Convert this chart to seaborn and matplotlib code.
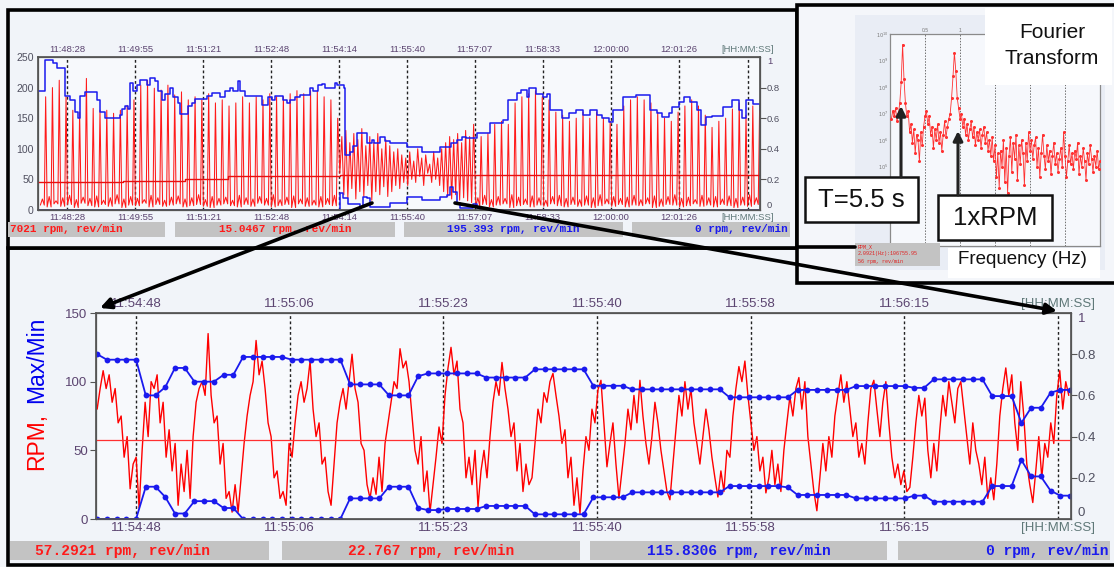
import numpy as np
import pandas as pd
import matplotlib
matplotlib.use("Agg")
import matplotlib.pyplot as plt
from matplotlib.patches import Rectangle
import seaborn as sns

# ============================ DATA ============================
# ---- top overview (x = seconds after 11:48:28) ----
top_tick_labels = ["11:48:28", "11:49:55", "11:51:21", "11:52:48", "11:54:14",
                   "11:55:40", "11:57:07", "11:58:33", "12:00:00", "12:01:26"]
top_tick_step = 86.44
top_cursor = 866.0
top_xlim = (-37.0, 881.5)
top_cycle = 8.64

top_r1_start = -34.0
top_r1_peak = [185, 200, 212, 185, 163, 160, 215, 166, 163, 163, 158, 163, 171, 180, 204,
               212, 199, 196, 204, 188, 193, 180, 185, 180, 190, 175, 180, 170, 175, 185,
               175, 185, 180, 190, 185, 185, 190, 195, 190, 195, 195, 185, 180, 150]
top_r1_low_a = [8, 5, 10, 6, 9, 4, 11, 7, 5, 9, 6, 10, 4, 8, 7, 11, 5, 9, 6, 8, 10, 5,
                7, 9, 6, 4, 8, 10, 7, 5, 9, 6, 11, 8, 5, 7, 9, 4, 10, 6, 8, 5, 9, 7]
top_r1_low_b = [18, 22, 15, 20, 24, 17, 21, 19, 23, 16, 20, 25, 18, 22, 19, 17, 24, 20,
                16, 21, 23, 18, 20, 25, 17, 22, 19, 21, 16, 24, 20, 18, 22, 19, 25, 17,
                21, 23, 18, 20, 16, 22, 19, 24]

top_r2_start = 347.0
top_r2_step = 2.54
top_r2_vals = [60, 120, 25, 130, 20, 110, 35, 125, 18, 115, 30, 133, 22, 105, 40, 120, 16,
               110, 30, 125, 25, 100, 38, 115, 22, 105, 30, 95, 40, 100, 35, 90, 45, 85,
               40, 95, 50, 80, 45, 100, 55, 85, 40, 90, 60, 75, 45, 95, 50, 85, 40, 100,
               30, 110, 22, 120, 18, 115, 25, 125, 16, 110, 20, 130, 15, 120, 12, 140]

top_r3_start = 520.0
top_r3_peak = [120, 125, 140, 145, 140, 175, 185, 190, 195, 185, 180, 160, 155, 145, 150,
               160, 150, 160, 150, 145, 140, 170, 180, 185, 180, 175, 160, 150, 145, 160,
               170, 180, 170, 155, 135, 145, 150, 165, 175, 155, 170, 165]
top_r3_low_a = [6, 9, 5, 8, 10, 4, 7, 9, 5, 8, 6, 10, 7, 5, 9, 6, 8, 4, 7, 10, 6, 9, 5,
                8, 7, 10, 4, 6, 9, 8, 5, 7, 10, 6, 8, 5, 9, 7, 4, 8, 6, 9]
top_r3_low_b = [20, 24, 17, 22, 19, 25, 21, 18, 23, 20, 16, 22, 24, 19, 21, 17, 23, 20, 25,
                18, 22, 19, 21, 24, 17, 20, 23, 18, 22, 25, 19, 21, 17, 24, 20, 22, 18, 23,
                19, 21, 25, 20]

top_max_t = [-37, -28, -18, -13, -3, 4, 10, 14, 17, 23, 38, 42, 48, 67, 70, 74, 78, 80, 84,
             89, 93, 102, 105, 112, 116, 121, 125, 131, 135, 141, 144, 154, 159, 163, 178,
             184, 194, 201, 207, 211, 217, 220, 226, 248, 255, 261, 264, 275, 280, 283, 290,
             296, 309, 313, 319, 324, 328, 341, 344, 352, 353, 360, 364, 369, 381, 388, 391,
             398, 405, 411, 432, 452, 474, 489, 496, 503, 508, 522, 538, 554, 561, 572, 578,
             585, 588, 597, 605, 610, 614, 630, 639, 648, 656, 665, 674, 681, 690, 694, 707,
             724, 741, 750, 757, 766, 770, 779, 785, 792, 801, 807, 813, 821, 834, 846, 855,
             859, 864, 872, 881]
top_max_v = [195, 245, 240, 232, 186, 180, 160, 150, 187, 192, 180, 160, 150, 155, 165, 170,
             165, 208, 195, 205, 212, 205, 215, 210, 195, 180, 190, 200, 185, 175, 157, 170,
             175, 182, 186, 191, 185, 195, 200, 195, 210, 195, 187, 172, 185, 180, 186, 180,
             175, 180, 185, 188, 200, 195, 204, 206, 200, 207, 205, 200, 90, 95, 105, 125,
             109, 115, 110, 120, 112, 109, 103, 95, 103, 109, 114, 120, 117, 125, 142, 147,
             180, 191, 196, 185, 199, 190, 185, 190, 163, 150, 158, 163, 155, 163, 155, 150,
             144, 163, 185, 188, 163, 158, 152, 158, 169, 177, 185, 177, 163, 139, 152, 153,
             169, 180, 163, 150, 180, 174, 163]
top_min_t = [-37, 345, 347, 351, 357, 372, 376, 381, 385, 411, 432, 452, 474, 483, 487, 491,
             496, 500, 516, 522, 525, 881]
top_min_v = [0, 0, 27, 20, 10, 5, 22, 20, 5, 11, 22, 16, 22, 25, 38, 30, 11, 3, 10, 3, 0, 0]
top_mean_t = [-37, 71, 150, 205, 347, 881]
top_mean_v = [46, 48, 51, 55, 57, 57]

top_status = ["7021 rpm, rev/min", "15.0467 rpm, rev/min", "195.393 rpm, rev/min", "0 rpm, rev/min"]

# ---- zoomed trace (x = seconds after 11:54:48) ----
bot_tick_labels = ["11:54:48", "11:55:06", "11:55:23", "11:55:40", "11:55:58", "11:56:15"]
bot_tick_step = 17.4
bot_cursor = 104.4
bot_xlim = (-4.53, 105.85)
bot_rpm_t0 = -4.4
bot_rpm_dt = 0.3395
bot_rpm = [80, 95, 108, 95, 105, 85, 95, 70, 75, 45,
           60, 22, 40, 45, 8, 50, 85, 60, 100, 95,
           105, 70, 85, 45, 65, 35, 55, 10, 40, 20,
           50, 15, 60, 85, 95, 100, 90, 135, 90, 70,
           75, 40, 55, 15, 20, 5, 25, 5, 30, 55,
           75, 90, 100, 130, 105, 115, 95, 70, 60, 30,
           35, 15, 20, 10, 55, 45, 70, 90, 100, 85,
           95, 115, 80, 60, 70, 40, 45, 20, 10, 40,
           70, 85, 95, 80, 100, 120, 95, 85, 55, 50,
           25, 15, 30, 18, 45, 20, 55, 70, 85, 100,
           95, 124, 110, 115, 100, 75, 50, 40, 60, 20,
           35, 5, 25, 45, 67, 55, 90, 110, 125, 105,
           115, 80, 70, 30, 45, 25, 50, 9, 35, 50,
           30, 60, 85, 100, 90, 114, 95, 80, 60, 70,
           35, 55, 20, 40, 25, 30, 55, 80, 70, 92,
           85, 100, 106, 90, 75, 55, 65, 30, 45, 10,
           30, 4, 35, 60, 50, 80, 70, 94, 101, 70,
           38, 55, 70, 40, 15, 35, 55, 80, 65, 90,
           70, 101, 75, 55, 40, 60, 85, 70, 50, 35,
           20, 14, 40, 65, 90, 75, 100, 80, 95, 70,
           55, 40, 60, 80, 65, 45, 30, 16, 35, 20,
           50, 45, 75, 95, 111, 100, 115, 90, 70, 50,
           60, 35, 45, 19, 30, 50, 25, 40, 20, 50,
           70, 89, 75, 95, 103, 80, 100, 60, 40, 20,
           6, 30, 55, 35, 60, 45, 75, 90, 105, 85,
           100, 80, 60, 70, 45, 55, 40, 70, 95, 101,
           80, 60, 85, 100, 70, 45, 30, 40, 25, 35,
           20, 23, 45, 70, 90, 75, 88, 50, 30, 55,
           35, 65, 90, 75, 100, 85, 70, 95, 100, 80,
           60, 40, 70, 50, 40, 25, 45, 15, 30, 14,
           40, 75, 95, 110, 90, 105, 70, 50, 100, 75,
           40, 25, 12, 35, 60, 30, 55, 45, 70, 55,
           90, 108, 80, 100, 90]
bot_mean = 57.3
bot_env_t0 = -4.4
bot_env_dt = 1.1014
bot_max = [120, 116, 116, 116, 116, 90, 90, 96, 110, 110,
           100, 100, 100, 105, 105, 118, 118, 118, 118, 118,
           116, 116, 116, 116, 116, 116, 98, 98, 98, 98,
           90, 90, 90, 104, 106, 106, 106, 106, 106, 106,
           103, 103, 103, 103, 103, 109, 109, 109, 109, 109,
           109, 97, 97, 97, 97, 94.4, 94.4, 94.4, 94.4, 94.4,
           94.4, 94.4, 94.4, 94.4, 94.4, 88.6, 88.6, 88.6, 88.6, 88.6,
           88.6, 88.6, 94, 94, 94, 94, 94, 94, 96.8, 96.8,
           96.8, 96.8, 96.8, 96.8, 95.5, 95.5, 101.7, 101.7, 101.7, 101.7,
           101.7, 101.7, 89.5, 89.5, 89.5, 70, 81, 81, 92, 94,
           94]
bot_min = [0, 0, 0, 0, 0, 23.5, 23.5, 16, 4, 4,
           13, 13, 13, 8, 8, 0, 0, 0, 0, 0,
           0, 0, 0, 0, 0, 0, 15, 15, 15, 15,
           23.5, 23.5, 23.5, 8, 6.5, 6.5, 7.3, 7.3, 7.3, 7.3,
           9.5, 9.5, 9.5, 9.5, 9.5, 3.4, 3.4, 3.4, 3.4, 3.4,
           3.4, 15.8, 15.8, 15.8, 15.8, 19.4, 19.4, 19.4, 19.4, 19.4,
           19.4, 19.4, 19.4, 19.4, 19.4, 24, 24, 24, 24, 24,
           24, 23, 17.5, 17.5, 17.5, 17.5, 17.5, 17.5, 15, 15,
           15, 15, 15, 15, 17, 17, 12.6, 12.6, 12.6, 12.6,
           12.6, 12.6, 24, 24, 24, 43, 31, 31, 20.6, 17,
           17]
bot_status = ["57.2921 rpm, rev/min", "22.767 rpm, rev/min", "115.8306 rpm, rev/min", "0 rpm, rev/min"]

# ---- Fourier transform (log10 amplitude every 0.02 Hz) ----
fft_df_hz = 0.02
fft_log = [6.8, 7.1, 6.9, 7.2, 6.7, 7.0, 7.4, 8.2, 9.6, 8.3,
           7.4, 6.9, 7.1, 6.3, 6.6, 5.9, 6.4, 5.5, 6.2, 6.0,
           5.2, 6.3, 5.8, 6.5, 6.9, 7.1, 6.6, 6.9, 6.2, 6.5,
           5.7, 6.4, 6.0, 6.6, 5.9, 6.3, 5.6, 6.2, 6.7, 6.1,
           6.5, 6.8, 7.0, 7.6, 8.4, 9.3, 8.6, 7.6, 7.2, 6.8,
           7.0, 6.5, 6.8, 6.2, 6.6, 6.0, 6.4, 6.7, 6.1, 6.5,
           5.8, 6.3, 6.0, 6.4, 5.7, 6.2, 6.5, 5.9, 6.3, 5.6,
           6.0, 5.4, 6.1, 5.2, 5.8, 4.6, 5.5, 4.2, 5.6, 5.0,
           6.0, 4.4, 5.7, 4.0, 5.4, 6.1, 4.8, 5.9, 5.3, 6.2,
           4.5, 5.8, 5.1, 6.0, 5.5, 4.3, 5.9, 5.2, 6.3, 5.6,
           6.0, 5.3, 5.8, 6.1, 5.0, 5.7, 4.6, 5.5, 6.2, 5.4,
           4.9, 5.8, 5.2, 5.6, 4.7, 5.4, 5.9, 5.1, 5.5, 4.8,
           5.3, 5.7, 5.0, 6.3, 5.4, 4.6, 5.2, 5.8, 5.1, 5.5,
           4.9, 5.6, 5.3, 5.9, 4.7, 5.4, 5.0, 5.7, 5.2, 4.5,
           5.5, 5.1, 5.8, 5.3, 4.8, 5.4, 5.0, 5.6, 4.9, 5.2]
fft_ytick_exps = [5, 6, 7, 8, 9, 10]
fft_status = ["RPM_X", "2.0921(Hz):106755.95", "56 rpm, rev/min"]

# ============================ FIGURE ============================
W, H = 1114, 567
sns.set_theme(style="white")
plt.rcParams["font.family"] = ["Liberation Sans", "DejaVu Sans"]

RED = "#ff1a1a"
BLUE = "#1a1aee"
TICKC = "#5b4470"
BG = "#f2f5f9"
MONO = "Liberation Mono"

fig = plt.figure(figsize=(W / 100, H / 100), dpi=100, facecolor=BG)


def rect(l, t, r, b):
    return [l / W, 1 - b / H, (r - l) / W, (b - t) / H]


def spike_train(t0, period, lows_a, lows_b, peaks):
    ts, vs = [], []
    for k, (la, lb, pk) in enumerate(zip(lows_a, lows_b, peaks)):
        base = t0 + k * period
        ts += [base, base + 0.3 * period, base + 0.58 * period, base + 0.78 * period]
        vs += [la, lb, la, pk]
    return ts, vs


# ---------- background layer ----------
bg = fig.add_axes([0, 0, 1, 1], zorder=0)
bg.set_xlim(0, W)
bg.set_ylim(H, 0)
bg.axis("off")
bg.add_patch(Rectangle((8, 248), 1110, 317, fc="#f1f4f9", ec="black", lw=2.6))
bg.add_patch(Rectangle((8, 10), 789, 238, fc="#f1f4f9", ec="black", lw=2.6))
bg.add_patch(Rectangle((797, 5), 320, 278, fc="#f4f6fa", ec="black", lw=2.6))
bg.add_patch(Rectangle((855, 15), 250, 255, fc="#e9edf5", ec="none"))

# top status bars
for (x0, x1), txt, col, ha in zip([(8, 165), (175, 395), (404, 623), (632, 790)], top_status,
                                  [RED, RED, BLUE, BLUE], ["left", "center", "center", "right"]):
    bg.add_patch(Rectangle((x0, 222), x1 - x0, 15, fc="#c3c3c3", ec="none"))
    tx = {"left": x0 + 2, "center": (x0 + x1) / 2, "right": x1 - 2}[ha]
    bg.text(tx, 229.5, txt, color=col, ha=ha, va="center", fontsize=7.9,
            family=MONO, fontweight="bold")

# bottom status bars
for (x0, x1), txt, col, ha in zip([(10, 269), (282, 580), (590, 887), (898, 1110)], bot_status,
                                  [RED, RED, BLUE, BLUE], ["left", "center", "center", "right"]):
    bg.add_patch(Rectangle((x0, 541), x1 - x0, 19, fc="#c3c3c3", ec="none"))
    tx = {"left": x0 + 25, "center": (x0 + x1) / 2, "right": x1 - 2}[ha]
    bg.text(tx, 550.5, txt, color=col, ha=ha, va="center", fontsize=10.5,
            family=MONO, fontweight="bold")

# y label of the zoomed panel
bg.text(37, 470, "RPM,", color="#ff0000", rotation=90, ha="center", va="bottom", fontsize=16.5)
bg.text(37, 403, "Max/Min", color="#0000ee", rotation=90, ha="center", va="bottom", fontsize=16.5)


def style_time_axis(ax, positions, labels, size, color):
    ax.set_xticks(positions)
    ax.set_xticklabels(labels)
    ax.tick_params(axis="x", length=0, labelsize=size, labelcolor=color,
                   labeltop=True, labelbottom=True, top=False, bottom=False, pad=2)
    for tick in ax.xaxis.get_major_ticks():
        if tick.label1.get_text().startswith("["):
            tick.label1.set_color("#5f7878")
            tick.label2.set_color("#5f7878")
    for p in positions:
        ax.axvline(p, color="#222222", lw=1.0, ls=(0, (2.0, 1.8)), zorder=1)
    for s in ax.spines.values():
        s.set_color("#555555")
        s.set_linewidth(0.9)


def style_right_axis(ax_r, size, pad):
    ax_r.set_ylim(0, 1)
    ax_r.set_yticks([0, 0.2, 0.4, 0.6, 0.8, 1])
    ax_r.set_yticklabels(["0", "0.2", "0.4", "0.6", "0.8", "1"])
    ax_r.tick_params(axis="y", length=4, width=0.8, color="#555555", labelsize=size,
                     labelcolor="#505060", pad=pad)
    ax_r.grid(False)
    for s in ax_r.spines.values():
        s.set_color("#555555")
    ticks = ax_r.yaxis.get_major_ticks()
    ticks[0].tick2line.set_visible(False)
    ticks[-1].tick2line.set_visible(False)
    ticks[0].label2.set_verticalalignment("bottom")
    ticks[-1].label2.set_verticalalignment("top")
    ticks[-1].label2.set_color(TICKC)


# ---------- top overview ----------
ax_top = fig.add_axes(rect(38, 57, 760, 210), zorder=2)
ax_top.set_facecolor("#f7f9fc")
r1_t, r1_v = spike_train(top_r1_start, top_cycle, top_r1_low_a, top_r1_low_b, top_r1_peak)
r2_t = [top_r2_start + i * top_r2_step for i in range(len(top_r2_vals))]
r3_t, r3_v = spike_train(top_r3_start, top_cycle, top_r3_low_a, top_r3_low_b, top_r3_peak)
top_df = pd.DataFrame({"t": r1_t + r2_t + r3_t, "rpm": r1_v + top_r2_vals + r3_v})
sns.lineplot(data=top_df, x="t", y="rpm", ax=ax_top, color=RED, lw=0.75,
             estimator=None, sort=False, legend=False, zorder=3)
sns.lineplot(x=top_mean_t, y=top_mean_v, ax=ax_top, color="#e81010", lw=1.0,
             drawstyle="steps-post", estimator=None, sort=False, zorder=4)
sns.lineplot(x=top_max_t, y=top_max_v, ax=ax_top, color=BLUE, lw=1.1,
             drawstyle="steps-post", estimator=None, sort=False, zorder=5)
sns.lineplot(x=top_min_t, y=top_min_v, ax=ax_top, color=BLUE, lw=1.1,
             drawstyle="steps-post", estimator=None, sort=False, zorder=5)
ax_top.set_xlim(*top_xlim)
ax_top.set_ylim(0, 250)
ax_top.set_xlabel("")
ax_top.set_ylabel("")
top_pos = [k * top_tick_step for k in range(len(top_tick_labels))] + [top_cursor]
style_time_axis(ax_top, top_pos, top_tick_labels + ["[HH:MM:SS]"], 6.8, TICKC)
ax_top.set_yticks([0, 50, 100, 150, 200, 250])
ax_top.tick_params(axis="y", length=0, labelsize=7.6, labelcolor="#505060", pad=3)
ax_top_r = ax_top.twinx()
style_right_axis(ax_top_r, 6.8, 1)

# ---------- zoomed trace ----------
ax_bot = fig.add_axes(rect(96, 313, 1071, 519), zorder=2)
ax_bot.set_facecolor("#f7f9fc")
bot_t = [bot_rpm_t0 + i * bot_rpm_dt for i in range(len(bot_rpm))]
sns.lineplot(x=bot_t, y=bot_rpm, ax=ax_bot, color="#ff0000", lw=1.0,
             estimator=None, sort=False, zorder=3)
ax_bot.axhline(bot_mean, color="#ff3030", lw=0.9, zorder=3)
env_t = [bot_env_t0 + j * bot_env_dt for j in range(len(bot_max))]
for env in (bot_max, bot_min):
    sns.lineplot(x=env_t, y=env, ax=ax_bot, color=BLUE, lw=1.3, marker="o",
                 markersize=4.2, markeredgewidth=0, estimator=None, sort=False, zorder=5)
ax_bot.set_xlim(*bot_xlim)
ax_bot.set_ylim(0, 150)
ax_bot.set_xlabel("")
ax_bot.set_ylabel("")
bot_pos = [k * bot_tick_step for k in range(len(bot_tick_labels))] + [bot_cursor]
style_time_axis(ax_bot, bot_pos, bot_tick_labels + ["[HH:MM:SS]"], 9.5, TICKC)
ax_bot.set_yticks([0, 50, 100, 150])
ax_bot.tick_params(axis="y", length=4, width=0.8, color="#555555", labelsize=9.5,
                   labelcolor=TICKC, pad=2, left=True)
ax_bot_r = ax_bot.twinx()
style_right_axis(ax_bot_r, 9.5, 1)

# ---------- Fourier transform ----------
ax_fft = fig.add_axes(rect(890, 34, 1100, 246), zorder=2)
ax_fft.set_facecolor("#f6f8fc")
fft_f = [fft_df_hz * (i + 1) for i in range(len(fft_log))]
fft_amp = [10 ** v for v in fft_log]
sns.lineplot(x=fft_f, y=fft_amp, ax=ax_fft, color="#ff3030", lw=0.6, marker="o",
             markersize=2.2, markeredgewidth=0, estimator=None, sort=False, zorder=3)
ax_fft.set_yscale("log")
ax_fft.set_ylim(1e2, 1e10)
ax_fft.set_xlim(0, 3)
ax_fft.set_xlabel("")
ax_fft.set_ylabel("")
for f in [0.5, 1.0, 1.5, 2.0, 2.5]:
    ax_fft.axvline(f, color="#707070", lw=0.7, ls=(0, (1.5, 1.5)), zorder=1)
ax_fft.set_xticks([0.5, 1.0])
ax_fft.set_xticklabels(["0.5", "1"])
ax_fft.set_yticks([10.0 ** n for n in fft_ytick_exps])
ax_fft.set_yticklabels([f"$10^{{{n}}}$" for n in fft_ytick_exps])
ax_fft.yaxis.set_minor_locator(matplotlib.ticker.NullLocator())
ax_fft.tick_params(axis="both", length=0, labelsize=3.6, labelcolor="#777777",
                   labeltop=True, labelbottom=False, pad=1)
for s in ax_fft.spines.values():
    s.set_color("#8a8a8a")
    s.set_linewidth(0.9)

# ---------- front layer: annotations and arrows ----------
fr = fig.add_axes([0, 0, 1, 1], zorder=10)
fr.set_xlim(0, W)
fr.set_ylim(H, 0)
fr.axis("off")

fr.add_patch(Rectangle((985, 8), 127, 77, fc="white", ec="none"))
fr.text(1052, 32, "Fourier", ha="center", va="center", fontsize=15, color="#111111")
fr.text(1052, 58, "Transform", ha="center", va="center", fontsize=15, color="#111111")
fr.add_patch(Rectangle((948, 248), 152, 30, fc="white", ec="none"))
fr.text(1022, 259, "Frequency (Hz)", ha="center", va="center", fontsize=13.5, color="#111111")

fr.add_patch(Rectangle((855, 243), 85, 23, fc="#c3c3c3", ec="none"))
for i, line in enumerate(fft_status):
    fr.text(858, 247 + i * 7, line, ha="left", va="center", fontsize=3.6,
            color="#e02020", family=MONO)
fr.plot([797, 855], [247, 247], color="black", lw=2.6)

fr.annotate("", xy=(901, 106), xytext=(901, 177),
            arrowprops=dict(arrowstyle="-|>", lw=2.2, color="#222222", mutation_scale=14,
                            shrinkA=0, shrinkB=0))
fr.annotate("", xy=(958, 131), xytext=(958, 195),
            arrowprops=dict(arrowstyle="-|>", lw=2.2, color="#222222", mutation_scale=14,
                            shrinkA=0, shrinkB=0))
fr.add_patch(Rectangle((805, 177), 113, 45, fc="white", ec="#111111", lw=1.8))
fr.text(861.5, 200, "T=5.5 s", ha="center", va="center", fontsize=18.5, color="#111111")
fr.add_patch(Rectangle((938, 195), 114, 45, fc="white", ec="#111111", lw=1.8))
fr.text(995, 218, "1xRPM", ha="center", va="center", fontsize=18.5, color="#111111")

fr.annotate("", xy=(100, 308), xytext=(372, 203),
            arrowprops=dict(arrowstyle="-|>", lw=2.6, color="black", mutation_scale=16,
                            shrinkA=0, shrinkB=0))
fr.annotate("", xy=(1057, 311), xytext=(455, 203),
            arrowprops=dict(arrowstyle="-|>", lw=2.6, color="black", mutation_scale=16,
                            shrinkA=0, shrinkB=0))

fig.savefig("out.png", dpi=100, facecolor=fig.get_facecolor())
